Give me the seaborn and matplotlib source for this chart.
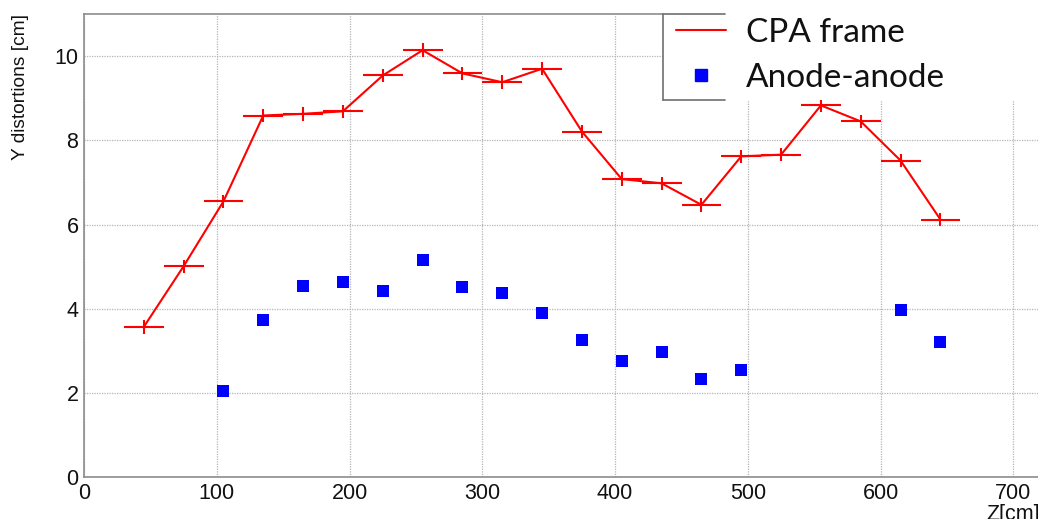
import numpy as np
import pandas as pd
import seaborn as sns
import matplotlib
matplotlib.use("Agg")
import matplotlib.pyplot as plt
from matplotlib.patches import Rectangle
from matplotlib.lines import Line2D
from matplotlib.ticker import MultipleLocator

# CPA frame measurement (bin centres, 30 cm wide bins)
cpa_z = [45, 75, 105, 135, 165, 195, 225, 255, 285, 315, 345, 375, 405, 435,
         465, 495, 525, 555, 585, 615, 645]
cpa_y = [3.57, 5.01, 6.55, 8.59, 8.63, 8.69, 9.54, 10.14, 9.59, 9.38, 9.70,
         8.21, 7.08, 6.98, 6.47, 7.62, 7.66, 8.83, 8.45, 7.52, 6.12]
cpa_yerr = [0.16] * len(cpa_z)
cpa_xerr = [15] * len(cpa_z)

# Anode-anode measurement
anode_z = [105, 135, 165, 195, 225, 255, 285, 315, 345, 375, 405, 435, 465,
           495, 615, 645]
anode_y = [2.06, 3.73, 4.54, 4.63, 4.43, 5.15, 4.53, 4.37, 3.91, 3.25, 2.76,
           2.98, 2.34, 2.54, 3.98, 3.21]

cpa = pd.DataFrame({"z": cpa_z, "y": cpa_y})
anode = pd.DataFrame({"z": anode_z, "y": anode_y})

sns.set_theme(style="white")
plt.rcParams["font.family"] = ["Liberation Sans", "DejaVu Sans"]

W, H = 1038, 519
fig = plt.figure(figsize=(W / 100, H / 100), dpi=100)
left, bottom, top, right = 84 / W, 1 - 477.3 / H, 1 - 14 / H, 1040 / W
ax = fig.add_axes([left, bottom, right - left, top - bottom])

red = "#ff0000"
blue = "#0000ff"
axis_grey = "#8c8c8c"

sns.lineplot(data=cpa, x="z", y="y", ax=ax, color=red, lw=1.5, zorder=3,
             label="CPA frame", legend=False)
ax.errorbar(cpa_z, cpa_y, xerr=cpa_xerr, yerr=cpa_yerr, fmt="none",
            ecolor=red, elinewidth=1.5, capsize=0, zorder=3)
sns.scatterplot(data=anode, x="z", y="y", ax=ax, color=blue, marker="s",
                s=78, linewidth=0, zorder=4, legend=False)

ax.set_xlim(0, 720)
ax.set_ylim(0, 11)
ax.xaxis.set_major_locator(MultipleLocator(100))
ax.xaxis.set_minor_locator(MultipleLocator(20))
ax.yaxis.set_major_locator(MultipleLocator(2))
ax.yaxis.set_minor_locator(MultipleLocator(0.5))

ax.grid(True, which="major", color="#b5b5b5", ls=(0, (1, 1)), lw=0.9)
for s in ["left", "bottom", "top", "right"]:
    ax.spines[s].set_color(axis_grey)
    ax.spines[s].set_linewidth(1.2)

ax.tick_params(axis="both", which="both", direction="in", colors=axis_grey,
               labelcolor="#111111", labelsize=15.5, width=1.1)
ax.tick_params(axis="x", which="major", length=10, pad=4)
ax.tick_params(axis="x", which="minor", length=5)
ax.tick_params(axis="y", which="major", length=21, pad=4)
ax.tick_params(axis="y", which="minor", length=10.5)

ax.set_xlabel("Z[cm]", fontsize=15.5, loc="right", color="#111111")
ax.xaxis.set_label_coords(1.0, -0.058)
ax.set_ylabel("Y distortions [cm]", fontsize=13.8, loc="top", color="#111111")
ax.yaxis.set_label_coords(-0.058, 1.0)

# legend box
lx0, ly0, ly1 = 663 / W, 1 - 100 / H, 1 - 14 / H
box = Rectangle((lx0, ly0), 1.1 - lx0, ly1 - ly0 + 0.01, transform=fig.transFigure,
                facecolor="white", edgecolor="none", zorder=10, clip_on=False)
ax.add_artist(box)
for xs, ys in [([lx0, lx0], [ly0, ly1]), ([lx0, 725 / W], [ly0, ly0]),
               ([lx0, 725 / W], [ly1, ly1])]:
    fig.add_artist(Line2D(xs, ys, color="#707070", lw=1.2, zorder=11))

handles = [Line2D([], [], color=red, lw=1.5),
           Line2D([], [], color=blue, marker="s", ls="none", markersize=8)]
leg = ax.legend(handles, ["CPA frame", "Anode-anode"], loc="upper left",
                bbox_to_anchor=(671 / W, 1 - 12.5 / H), bbox_transform=fig.transFigure,
                frameon=False, borderaxespad=0, borderpad=0.15,
                handlelength=1.5, handletextpad=0.6, labelspacing=0.46,
                prop={"family": ["Lato", "DejaVu Sans"], "size": 24})
leg.set_zorder(12)
for t in leg.get_texts():
    t.set_color("#111111")

fig.savefig("out.png", dpi=100)
